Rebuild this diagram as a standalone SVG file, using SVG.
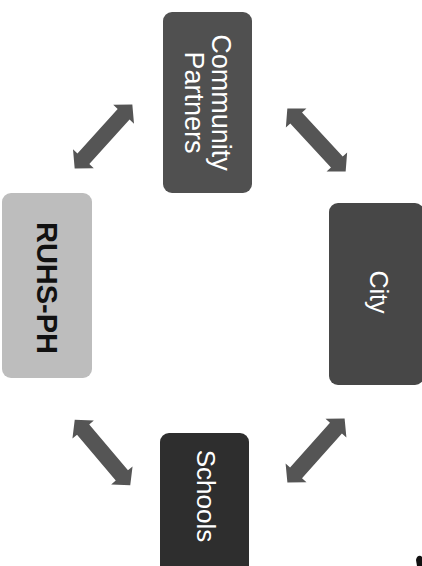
<svg xmlns="http://www.w3.org/2000/svg" width="422" height="566" viewBox="0 0 422 566">
<defs>
<style>
.lbl{font-family:"Liberation Sans",Arial,sans-serif;fill:#ffffff;text-anchor:middle}
.dark{fill:#111111;font-weight:bold}
.arrow{fill:#555555}
</style>
<path id="dbl" d="M-43,0 L-30,-14 L-30,-8 L30,-8 L30,-14 L43,0 L30,14 L30,8 L-30,8 L-30,14 Z"/>
</defs>
<rect width="422" height="566" fill="#ffffff"/>
<g id="connectors" class="arrow">
<use href="#dbl" transform="translate(103.5,136.5) rotate(-47.9)"/>
<use href="#dbl" transform="translate(316.5,140) rotate(47.3)"/>
<use href="#dbl" transform="translate(102.5,452.5) rotate(49.8)"/>
<use href="#dbl" transform="translate(316,450.5) rotate(-48.3)"/>
</g>
<g id="community-partners">
<rect x="163" y="12" width="89" height="181" rx="9" fill="#505050"/>
<text class="lbl" font-size="27" transform="translate(207.5,102.5) rotate(90)"><tspan x="0" y="-4">Community</tspan><tspan x="0" y="23">Partners</tspan></text>
</g>
<g id="city">
<rect x="329" y="203" width="95" height="182" rx="9" fill="#474747"/>
<text class="lbl" font-size="25" transform="translate(378,292) rotate(90)" y="8">City</text>
</g>
<g id="ruhs-ph">
<rect x="2" y="193" width="90" height="185" rx="9" fill="#bdbdbd"/>
<text class="lbl dark" font-size="29" transform="translate(47,288) rotate(90)" y="10">RUHS-PH</text>
</g>
<g id="schools">
<rect x="160" y="433" width="89" height="145" rx="9" fill="#2e2e2e"/>
<text class="lbl" font-size="26" transform="translate(206,496) rotate(90)" y="9">Schools</text>
</g>
<path d="M417,566 L416,560 Q417,555 421,556 L422,557 L422,566 Z" fill="#111111"/>
</svg>
